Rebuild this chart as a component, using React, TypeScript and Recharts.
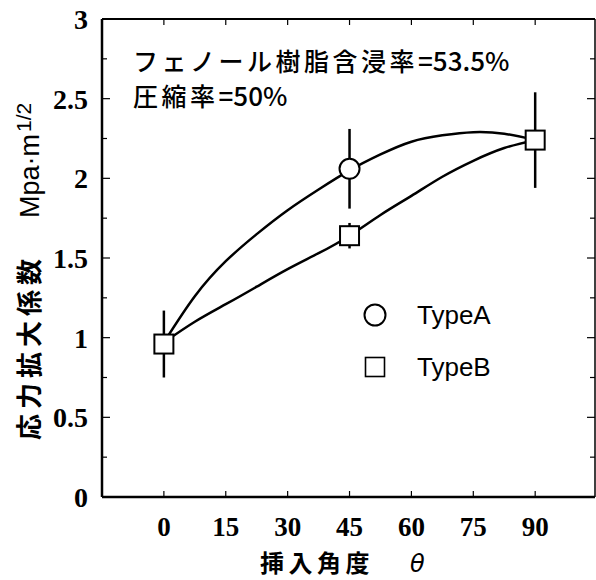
import {
  ComposedChart,
  ErrorBar,
  Legend,
  Line,
  Scatter,
  XAxis,
  YAxis,
} from "recharts";

// insertion angle (deg) ticks and stress-intensity ticks
const angleTicks = [0, 15, 30, 45, 60, 75, 90];
const kTicks = [0, 0.25, 0.5, 0.75, 1, 1.25, 1.5, 1.75, 2, 2.25, 2.5, 2.75, 3];

// fitted curves
const curveAngles = [0, 7.5, 15, 22.5, 30, 37.5, 45, 52.5, 60, 67.5, 75, 82.5, 90];
const typeACurve = [0.97, 1.26, 1.48, 1.65, 1.8, 1.93, 2.05, 2.15, 2.23, 2.27, 2.29, 2.28, 2.24];
const typeBCurve = [0.97, 1.1, 1.21, 1.32, 1.43, 1.53, 1.64, 1.77, 1.89, 2.01, 2.11, 2.19, 2.24];

// measured points with scatter (+/-)
const typeAAngles = [45];
const typeAValues = [2.06];
const typeAErrors = [0.25];
const typeBAngles = [0, 45, 90];
const typeBValues = [0.96, 1.64, 2.24];
const typeBErrors = [0.21, 0.08, 0.3];

const curveA = curveAngles.map((x, i) => ({ x, y: typeACurve[i] }));
const curveB = curveAngles.map((x, i) => ({ x, y: typeBCurve[i] }));
const pointsA = typeAAngles.map((x, i) => ({ x, y: typeAValues[i], err: typeAErrors[i] }));
const pointsB = typeBAngles.map((x, i) => ({ x, y: typeBValues[i], err: typeBErrors[i] }));

const serif = "'Liberation Serif', 'Times New Roman', serif";
const sans = "'Liberation Sans', Arial, sans-serif";
const cjk = "'Noto Sans CJK JP', 'Noto Sans', sans-serif";

const isMajor = (v: number) => Math.abs(v * 2 - Math.round(v * 2)) < 1e-6;

function LeftTick(props: any) {
  const { x, y, payload } = props;
  const major = isMajor(payload.value);
  return (
    <g>
      <line x1={x} x2={x + (major ? 8 : 5)} y1={y} y2={y} stroke="#000" strokeWidth={1.2} />
      {major && (
        <text x={x - 14} y={y + 10} textAnchor="end" fontFamily={serif} fontWeight={700} fontSize={28} fill="#000">
          {payload.value}
        </text>
      )}
    </g>
  );
}

function RightTick(props: any) {
  const { x, y, payload } = props;
  const major = isMajor(payload.value);
  return <line x1={x} x2={x - (major ? 8 : 5)} y1={y} y2={y} stroke="#000" strokeWidth={1.2} />;
}

function BottomTick(props: any) {
  const { x, y, payload } = props;
  return (
    <g>
      <line x1={x} x2={x} y1={y} y2={y - 6} stroke="#000" strokeWidth={1.2} />
      <text x={x} y={y + 39} textAnchor="middle" fontFamily={serif} fontWeight={700} fontSize={27} fill="#000">
        {payload.value}
      </text>
    </g>
  );
}

function TopTick(props: any) {
  const { x, y } = props;
  return <line x1={x} x2={x} y1={y} y2={y + 6} stroke="#000" strokeWidth={1.2} />;
}

function Circle(props: any) {
  const { cx, cy } = props;
  return <circle cx={cx} cy={cy} r={10} fill="#fff" stroke="#000" strokeWidth={2} />;
}

function Square(props: any) {
  const { cx, cy } = props;
  return <rect x={cx - 9.5} y={cy - 9.5} width={19} height={19} fill="#fff" stroke="#000" strokeWidth={2} />;
}

function XTitle() {
  return (
    <text x={260} y={572} fontFamily={cjk} fontWeight={700} fontSize={24} fill="#000">
      <tspan letterSpacing={4.5}>挿入角度</tspan>
      <tspan x={410} fontFamily="'DejaVu Sans', sans-serif" fontStyle="italic" fontWeight={400} fontSize={24}>
        θ
      </tspan>
    </text>
  );
}

function YTitle() {
  return (
    <text transform="translate(39, 440) rotate(-90)" fontFamily={cjk} fontWeight={700} fontSize={26} fill="#000">
      <tspan letterSpacing={5}>応力拡大係数</tspan>
      <tspan dx={36} fontFamily={sans} fontWeight={400} fontSize={27}>
        Mpa·m
      </tspan>
      <tspan dx={2} dy={-8} fontFamily={sans} fontWeight={400} fontSize={21}>
        1/2
      </tspan>
    </text>
  );
}

function Note() {
  return (
    <g fontFamily={cjk} fill="#000" fontWeight={500}>
      <text x={133} y={71} fontSize={25}>
        <tspan letterSpacing={3.5}>フェノール樹脂含浸率</tspan>
        <tspan fontSize={26}>=53.5%</tspan>
      </text>
      <text x={133} y={106} fontSize={25}>
        <tspan letterSpacing={3.5}>圧縮率</tspan>
        <tspan fontSize={26}>=50%</tspan>
      </text>
    </g>
  );
}

function LegendBox() {
  const row = { display: "flex", alignItems: "center", height: 52 } as const;
  const label = { fontFamily: sans, fontSize: 26, color: "#000", marginLeft: 30 };
  return (
    <div>
      <div style={row}>
        <svg width={24} height={24}>
          <circle cx={12} cy={12} r={10.5} fill="#fff" stroke="#000" strokeWidth={2} />
        </svg>
        <span style={label}>TypeA</span>
      </div>
      <div style={row}>
        <svg width={24} height={24}>
          <rect x={2.5} y={2.5} width={19} height={19} fill="#fff" stroke="#000" strokeWidth={1.6} />
        </svg>
        <span style={label}>TypeB</span>
      </div>
    </div>
  );
}

export default function App() {
  return (
    <div style={{ position: "absolute", left: 0, top: 0, width: 596, height: 580, background: "#fff" }}>
      <ComposedChart width={596} height={580} margin={{ top: 18, right: 0, bottom: 82, left: 101 }}>
        <XAxis
          xAxisId="b"
          dataKey="x"
          type="number"
          domain={[-15, 104.5]}
          ticks={angleTicks}
          interval={0}
          height={1}
          tickSize={0}
          tickMargin={0}
          tickLine={false}
          tick={<BottomTick />}
          axisLine={{ stroke: "#000", strokeWidth: 2.5 }}
          allowDataOverflow
          label={<XTitle />}
        />
        <XAxis
          xAxisId="t"
          orientation="top"
          dataKey="x"
          type="number"
          domain={[-15, 104.5]}
          ticks={angleTicks}
          interval={0}
          height={1}
          tickSize={0}
          tickMargin={0}
          tickLine={false}
          tick={<TopTick />}
          axisLine={{ stroke: "#000", strokeWidth: 2 }}
          allowDataOverflow
          label={<Note />}
        />
        <YAxis
          yAxisId="l"
          dataKey="y"
          type="number"
          domain={[0, 3]}
          ticks={kTicks}
          interval={0}
          width={1}
          tickSize={0}
          tickMargin={0}
          tickLine={false}
          tick={<LeftTick />}
          axisLine={{ stroke: "#000", strokeWidth: 2.5 }}
          allowDataOverflow
          label={<YTitle />}
        />
        <YAxis
          yAxisId="r"
          orientation="right"
          dataKey="y"
          type="number"
          domain={[0, 3]}
          ticks={kTicks}
          interval={0}
          width={1}
          tickSize={0}
          tickMargin={0}
          tickLine={false}
          tick={<RightTick />}
          axisLine={{ stroke: "#000", strokeWidth: 1.5 }}
          allowDataOverflow
        />
        <Line
          xAxisId="b"
          yAxisId="l"
          data={curveA}
          dataKey="y"
          type="natural"
          stroke="#000"
          strokeWidth={2.5}
          dot={false}
          activeDot={false}
          isAnimationActive={false}
          legendType="none"
        />
        <Line
          xAxisId="b"
          yAxisId="l"
          data={curveB}
          dataKey="y"
          type="natural"
          stroke="#000"
          strokeWidth={2.5}
          dot={false}
          activeDot={false}
          isAnimationActive={false}
          legendType="none"
        />
        <Scatter
          xAxisId="b"
          yAxisId="l"
          name="TypeA"
          data={pointsA}
          dataKey="y"
          shape={<Circle />}
          isAnimationActive={false}
        >
          <ErrorBar dataKey="err" direction="y" width={0} stroke="#000" strokeWidth={2.5} />
        </Scatter>
        <Scatter
          xAxisId="b"
          yAxisId="l"
          name="TypeB"
          data={pointsB}
          dataKey="y"
          shape={<Square />}
          isAnimationActive={false}
        >
          <ErrorBar dataKey="err" direction="y" width={0} stroke="#000" strokeWidth={2.5} />
        </Scatter>
        <Legend
          layout="vertical"
          align="center"
          verticalAlign="middle"
          wrapperStyle={{ left: 363, top: 289, width: 170, height: 104 }}
          content={() => <LegendBox />}
        />
      </ComposedChart>
    </div>
  );
}
